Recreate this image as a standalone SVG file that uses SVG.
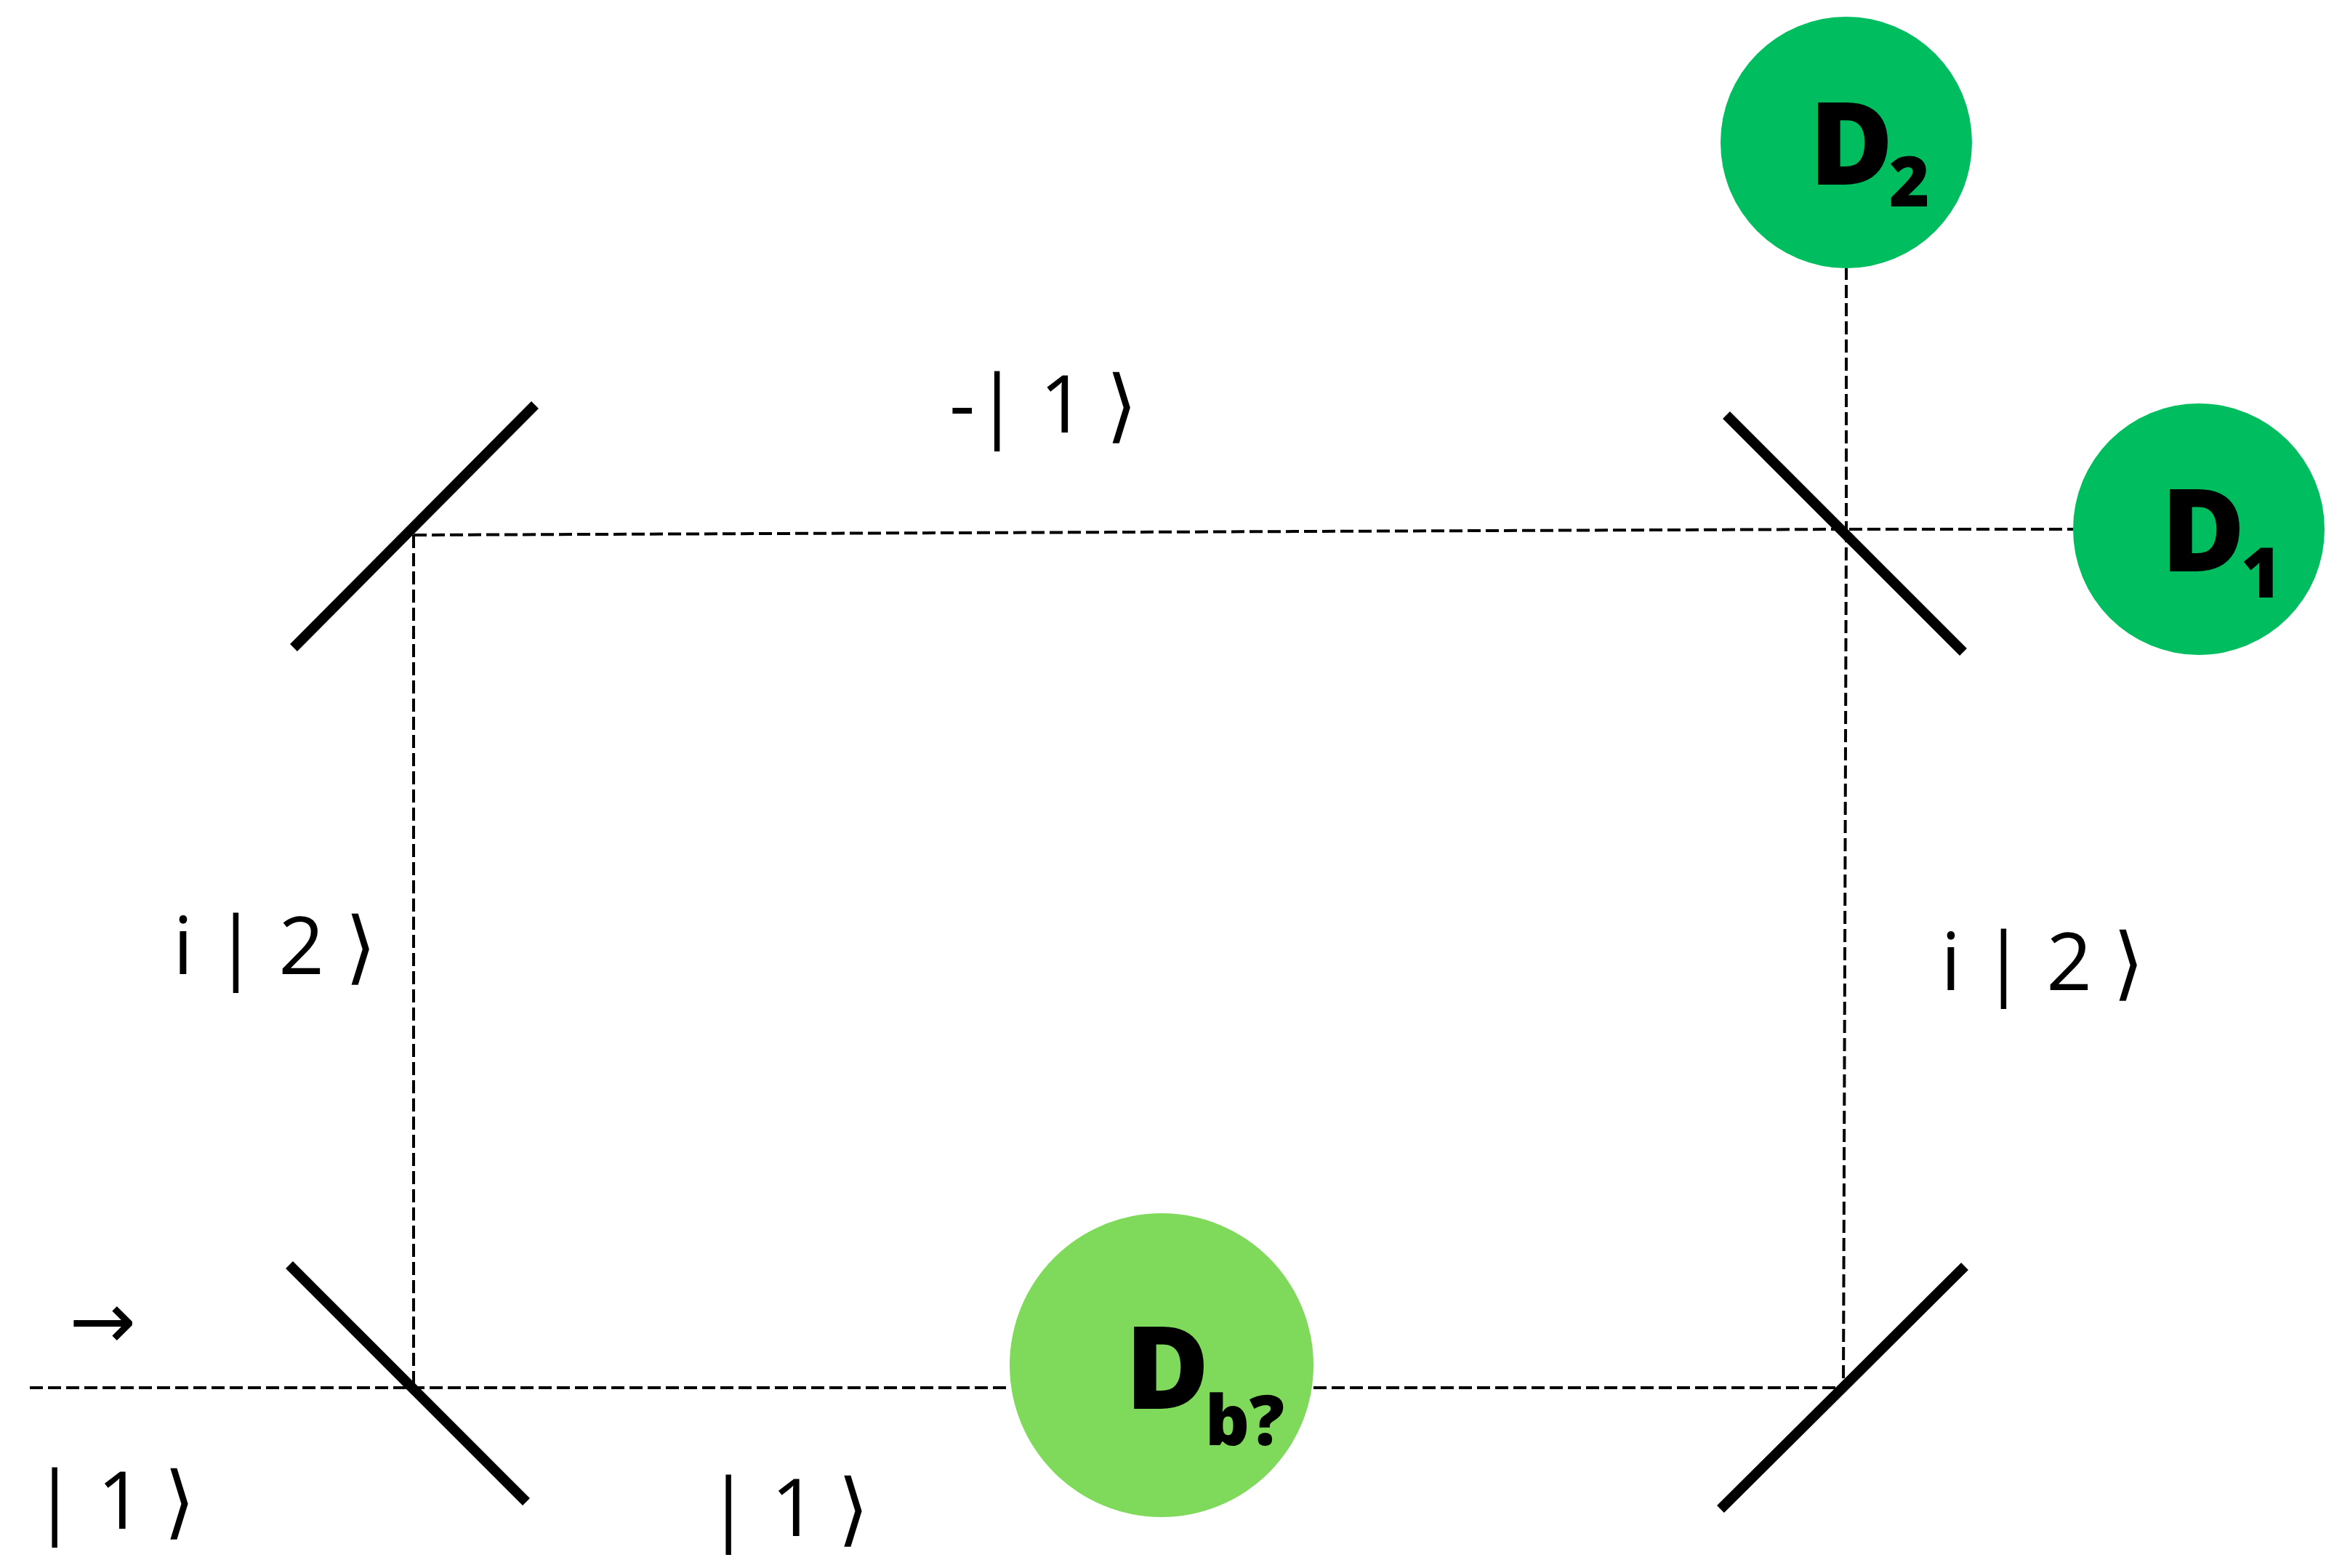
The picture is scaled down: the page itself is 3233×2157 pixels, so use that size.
<svg xmlns="http://www.w3.org/2000/svg" width="3233" height="2157" viewBox="0 0 3233 2157">
<style>
.m{stroke:#000;stroke-width:14;fill:none}
.d{stroke:#000;stroke-width:4;stroke-dasharray:18 7;fill:none}
.t{font-family:"Open Sans","DejaVu Sans",sans-serif;font-size:110px;fill:#000}
.b{font-family:"Open Sans","DejaVu Sans",sans-serif;font-weight:800;fill:#000}
</style>
<rect width="3233" height="2157" fill="#fff"/>
<g id="connectors">
<path class="d" d="M569 736 L2540 728 L2852 728"/>
<path class="d" d="M569 736 L569 1909"/>
<path class="d" d="M41 1909 L1389 1909 M1807 1909 L2536 1909"/>
<path class="d" d="M2540 728 L2536 1909"/>
<path class="d" d="M2540 367 L2540 728"/>
</g>
<g id="mirror-tl"><line class="m" x1="404" y1="891" x2="736" y2="557"/></g>
<g id="bs-tr"><line class="m" x1="2375" y1="571" x2="2701" y2="897"/></g>
<g id="bs-bl"><line class="m" x1="398" y1="1740" x2="724" y2="2066"/></g>
<g id="mirror-br"><line class="m" x1="2367" y1="2076" x2="2703" y2="1742"/></g>
<g id="D2"><circle cx="2540" cy="196" r="173" fill="#00BE5F"/><text class="b" x="2489" y="254" font-size="158">D<tspan font-size="95" dy="30" dx="-6">2</tspan></text></g>
<g id="D1"><circle cx="3025" cy="728" r="173" fill="#00BE5F"/><text class="b" x="2973" y="786" font-size="158">D<tspan font-size="95" dy="36" dx="-6">1</tspan></text></g>
<g id="Db"><circle cx="1598" cy="1878" r="209" fill="#7FD95A"/><text class="b" x="1548" y="1938" font-size="158">D<tspan font-size="95" dy="50" dx="-6">b?</tspan></text></g>
<g id="labels">
<text class="t" x="1306" y="595">-| 1 ⟩</text>
<text class="t" x="238" y="1340">i | 2 ⟩</text>
<text class="t" x="2670" y="1362">i | 2 ⟩</text>
<text class="t" x="45" y="2103">| 1 ⟩</text>
<text class="t" x="972" y="2113">| 1 ⟩</text>
<text class="t" x="95" y="1855">→</text>
</g>
</svg>
